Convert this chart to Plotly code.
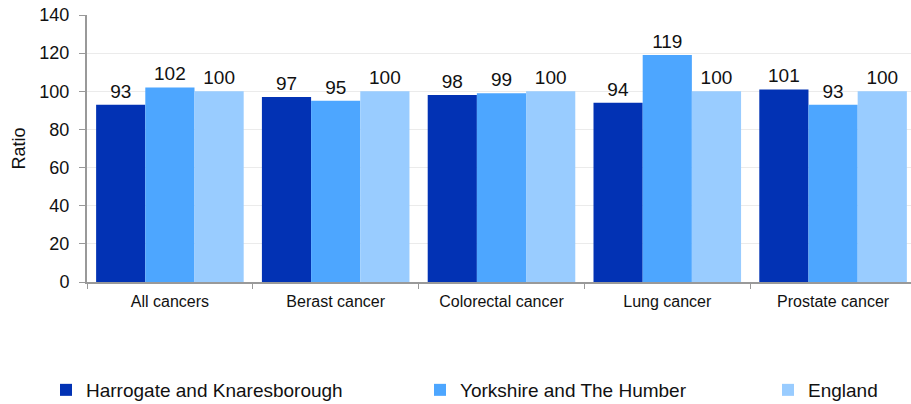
import plotly.graph_objects as go

# Cancer incidence ratios by site
categories = ["All cancers", "Berast cancer", "Colorectal cancer", "Lung cancer", "Prostate cancer"]
series_names = ["Harrogate and Knaresborough", "Yorkshire and The Humber", "England"]
harrogate = [93, 97, 98, 94, 101]
yorkshire = [102, 95, 99, 119, 93]
england = [100, 100, 100, 100, 100]
colors = ["#0232B4", "#4DA6FF", "#99CCFF"]

y_ticks = [0, 20, 40, 60, 80, 100, 120, 140]

FONT = "Liberation Sans, Arial, sans-serif"

W, H = 911, 404
ML, MR, MT, MB = 87, 0, 15, 122
plot_w = W - ML - MR
plot_h = H - MT - MB

fig = go.Figure()
legend_names = ["legend", "legend2", "legend3"]
for name, vals, col, lg in zip(series_names, [harrogate, yorkshire, england], colors, legend_names):
    fig.add_trace(go.Bar(
        x=categories, y=vals, name=name,
        marker=dict(color=col, line=dict(width=0)),
        text=[str(v) for v in vals], textposition="outside",
        textfont=dict(size=19, color="#111111", family=FONT),
        cliponaxis=False, legend=lg, showlegend=True,
    ))

common_legend = dict(orientation="h", xref="container", yref="container",
                     yanchor="middle", y=1 - 390 / H, xanchor="left",
                     font=dict(size=19, color="#111111", family=FONT),
                     bgcolor="rgba(0,0,0,0)", borderwidth=0, visible=True)

fig.update_layout(
    width=W, height=H, showlegend=True,
    margin=dict(l=ML, r=MR, t=MT, b=MB, pad=0, autoexpand=False),
    paper_bgcolor="white", plot_bgcolor="white",
    barmode="group", bargap=0.11, bargroupgap=0,
    font=dict(family=FONT, color="#111111"),
    legend=dict(x=46 / W, **common_legend),
    legend2=dict(x=420 / W, **common_legend),
    legend3=dict(x=768 / W, **common_legend),
    xaxis=dict(
        type="category", range=[-0.5, 4.47], tickson="boundaries",
        ticks="outside", ticklen=5, tickcolor="#999999", tickwidth=1,
        showline=True, linecolor="#999999", linewidth=2,
        tickfont=dict(size=16, color="#111111", family=FONT),
        showgrid=False, zeroline=False, ticklabelstandoff=4,
    ),
    yaxis=dict(
        range=[0, 140], tickvals=y_ticks, ticks="outside", ticklen=6,
        tickcolor="#999999", tickwidth=1,
        showline=True, linecolor="#999999", linewidth=2,
        showgrid=True, gridcolor="#EBEBEB", gridwidth=1, zeroline=False,
        tickfont=dict(size=18, color="#111111", family=FONT),
        ticklabelstandoff=6,
    ),
    annotations=[dict(
        text="Ratio", xref="paper", yref="paper", x=(18 - ML) / plot_w, y=0.5,
        textangle=-90, showarrow=False, xanchor="center", yanchor="middle",
        font=dict(size=18, color="#111111", family=FONT),
    )],
)

fig.write_html("out.html")
